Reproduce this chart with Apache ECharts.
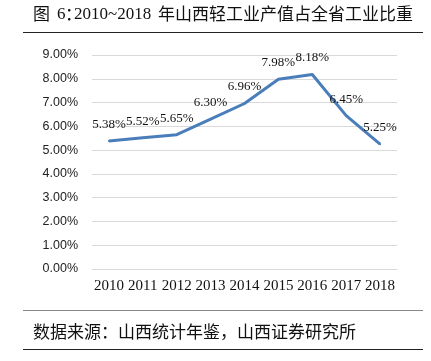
<!DOCTYPE html>
<html><head><meta charset="utf-8">
<script src="https://cdn.jsdelivr.net/npm/echarts@6/dist/echarts.min.js"></script>
<style>html,body{margin:0;padding:0;background:#fff}#c{width:431px;height:361px}</style>
</head><body><div id="c"></div>
<script>
var categories = ['2010','2011','2012','2013','2014','2015','2016','2017','2018'];
var values = [5.38, 5.52, 5.65, 6.30, 6.96, 7.98, 8.18, 6.45, 5.25];
var titlePrefix = '图';
var titleNum = '6';
var titleColon = '：';
var titleYears = '2010~2018';
var titleRest = '年山西轻工业产值占全省工业比重';
var sourceText = '数据来源：山西统计年鉴，山西证券研究所';

var chart = echarts.init(document.getElementById('c'), null, {renderer:'canvas'});
var serif = "'Liberation Serif','Times New Roman'";
var cjk = "'Noto Sans CJK SC'";
chart.setOption({
  animation:false,
  backgroundColor:'#fff',
  grid:{left:92, right:34, top:55, bottom:92},
  xAxis:{
    type:'category', data:categories, boundaryGap:true,
    axisLine:{show:true, lineStyle:{color:'#d9d9d9', width:1}},
    axisTick:{show:false},
    axisLabel:{color:'#111', fontFamily:serif, fontSize:15, margin:10, interval:0}
  },
  yAxis:{
    type:'value', min:0, max:9, interval:1,
    axisLine:{show:false}, axisTick:{show:false},
    splitLine:{lineStyle:{color:'#d9d9d9', width:1}},
    axisLabel:{color:'#222', fontFamily:"'Liberation Sans',Arial", fontSize:12.5, margin:14,
      formatter:function(v){return v.toFixed(2)+'%';}}
  },
  series:[{
    type:'line', data:values, showSymbol:true, symbol:'circle', symbolSize:2,
    itemStyle:{color:'#4a7ebb'},
    lineStyle:{color:'#4a7ebb', width:3},
    labelLayout:{hideOverlap:false},
    label:{show:true, position:'top', distance:9, color:'#111', fontFamily:serif, fontSize:13,
      formatter:function(p){return p.value.toFixed(2)+'%';}}
  }],
  graphic:[
    {type:'text', left:33, top:5, style:{text:titlePrefix, font:"17px "+cjk, fill:'#111'}},
    {type:'text', left:57, top:6, style:{text:titleNum, font:"17px "+serif, fill:'#111'}},
    {type:'text', left:65, top:5, style:{text:titleColon, font:"17px "+cjk, fill:'#111'}},
    {type:'text', left:74, top:6, style:{text:titleYears, font:"17px "+serif, fill:'#111'}},
    {type:'text', left:158, top:5, style:{text:titleRest, font:"17px "+cjk, fill:'#111'}},
    {type:'line', shape:{x1:23,y1:32.5,x2:423,y2:32.5}, style:{stroke:'#222', lineWidth:1}},
    {type:'line', shape:{x1:23,y1:310.5,x2:423,y2:310.5}, style:{stroke:'#888', lineWidth:1}},
    {type:'text', left:33, top:323, style:{text:sourceText, font:"17px "+cjk, fill:'#111'}},
    {type:'line', shape:{x1:23,y1:349.5,x2:423,y2:349.5}, style:{stroke:'#222', lineWidth:1}}
  ]
});
</script></body></html>
